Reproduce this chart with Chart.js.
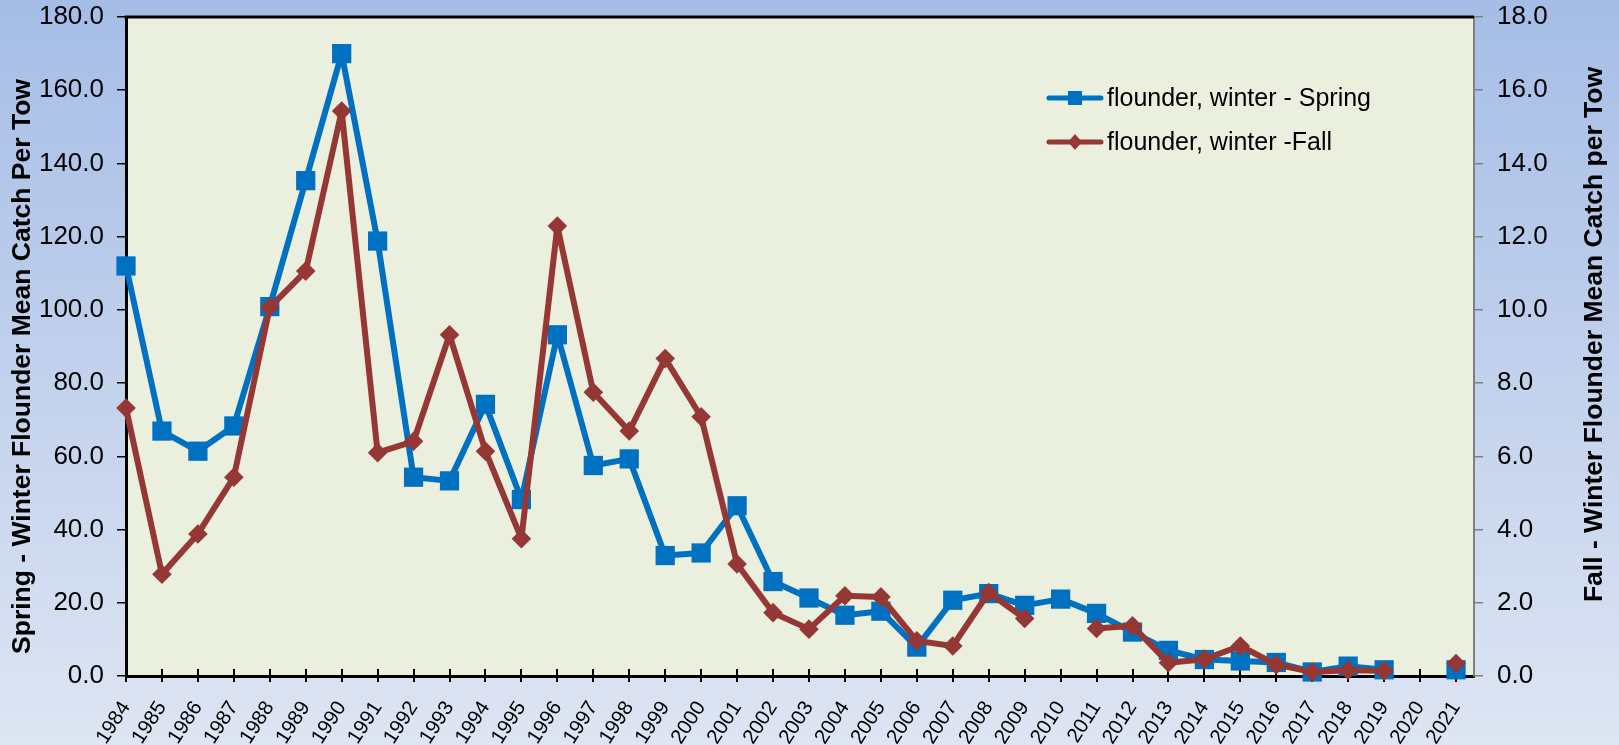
<!DOCTYPE html>
<html>
<head>
<meta charset="utf-8">
<script src="https://cdn.jsdelivr.net/npm/chart.js@4.4.1/dist/chart.umd.min.js"></script>
<style>
  html, body { margin: 0; padding: 0; overflow: hidden; background: #ffffff; }
  #wrap { width: 1619px; height: 745px; position: relative; }
</style>
</head>
<body>
<div id="wrap"><canvas id="c" width="1619" height="745"></canvas></div>
<script>
// Survey years (x categories)
const years = [1984, 1985, 1986, 1987, 1988, 1989, 1990, 1991, 1992, 1993,
               1994, 1995, 1996, 1997, 1998, 1999, 2000, 2001, 2002, 2003,
               2004, 2005, 2006, 2007, 2008, 2009, 2010, 2011, 2012, 2013,
               2014, 2015, 2016, 2017, 2018, 2019, 2020, 2021];

// Spring survey mean catch per tow (left axis)
const springCatch = [112.0, 66.9, 61.4, 68.3, 100.9, 135.3, 170.0, 118.8, 54.3, 53.3,
                     74.2, 48.2, 93.2, 57.5, 59.3, 32.9, 33.6, 46.5, 25.8, 21.3,
                     16.6, 17.7, 7.9, 20.7, 22.5, 19.3, 21.0, 17.1, 12.0, 7.0,
                     4.5, 4.1, 3.7, 1.1, 2.7, 1.7, null, 1.7];

// Fall survey mean catch per tow (right axis)
const fallCatch = [7.32, 2.78, 3.88, 5.43, 10.07, 11.06, 15.43, 6.10, 6.41, 9.32,
                   6.14, 3.75, 12.29, 7.75, 6.69, 8.67, 7.08, 3.06, 1.73, 1.28,
                   2.19, 2.16, 0.96, 0.82, 2.28, 1.57, null, 1.30, 1.37, 0.36,
                   0.46, 0.82, 0.31, 0.11, 0.16, 0.14, null, 0.34];

const seriesNames = ['flounder, winter - Spring', 'flounder, winter -Fall'];
const leftAxisTitle = 'Spring - Winter Flounder Mean Catch Per Tow';
const rightAxisTitle = 'Fall - Winter Flounder Mean Catch per Tow';

const BLUE = '#0070C0';
const RED = '#953735';
const FONT = "'Liberation Sans', Arial, sans-serif";

// Page background gradient and plot-area fill
const backdrop = {
  id: 'backdrop',
  beforeDraw(chart) {
    const { ctx, width, height, chartArea: a } = chart;
    ctx.save();
    const g = ctx.createLinearGradient(0, 0, 0, height);
    g.addColorStop(0, '#A5BDE6');
    g.addColorStop(1, '#DEE5F3');
    ctx.fillStyle = g;
    ctx.fillRect(0, 0, width, height);
    ctx.fillStyle = '#EBEFDE';
    ctx.fillRect(a.left, a.top, a.right - a.left, a.bottom - a.top);
    ctx.restore();
  }
};

// Top frame line and the inner half of the x tick marks
const frame = {
  id: 'frame',
  beforeDatasetsDraw(chart) {
    const { ctx, chartArea: a } = chart;
    const xs = chart.scales.x;
    ctx.save();
    ctx.strokeStyle = '#000';
    ctx.lineWidth = 2;
    xs.ticks.forEach(t => {
      const px = Math.round(xs.getPixelForValue(t.value));
      ctx.beginPath();
      ctx.moveTo(px, a.bottom);
      ctx.lineTo(px, a.bottom - 7);
      ctx.stroke();
    });
    ctx.lineWidth = 3;
    ctx.beginPath();
    ctx.moveTo(a.left - 1.5, a.top);
    ctx.lineTo(a.right, a.top);
    ctx.stroke();
    ctx.restore();
  }
};

// Vertical axis titles
const axisTitles = {
  id: 'axisTitles',
  afterDraw(chart) {
    const { ctx, chartArea: a } = chart;
    const mid = (a.top + a.bottom) / 2;
    ctx.save();
    ctx.fillStyle = '#000';
    ctx.font = 'bold 26.5px ' + FONT;
    ctx.textAlign = 'center';
    ctx.textBaseline = 'middle';
    ctx.save();
    ctx.translate(23, mid + 20);
    ctx.rotate(-Math.PI / 2);
    ctx.fillText(leftAxisTitle, 0, 0);
    ctx.restore();
    ctx.save();
    ctx.translate(1595, mid - 12);
    ctx.rotate(-Math.PI / 2);
    ctx.fillText(rightAxisTitle, 0, 0);
    ctx.restore();
    ctx.restore();
  }
};

// Legend with line-and-marker keys inside the plot area
const lineLegend = {
  id: 'lineLegend',
  afterDatasetsDraw(chart) {
    const { ctx } = chart;
    const rows = [
      { y: 98, base: 106, ds: chart.data.datasets[0] },
      { y: 142, base: 150, ds: chart.data.datasets[1] }
    ];
    ctx.save();
    rows.forEach(r => {
      const col = r.ds.borderColor;
      ctx.strokeStyle = col;
      ctx.lineWidth = 5;
      ctx.lineCap = 'round';
      ctx.beginPath();
      ctx.moveTo(1049, r.y);
      ctx.lineTo(1101, r.y);
      ctx.stroke();
      ctx.fillStyle = col;
      ctx.beginPath();
      if (r.ds.pointStyle === 'rect') {
        ctx.rect(1068, r.y - 7, 14, 14);
      } else {
        ctx.moveTo(1075, r.y - 8);
        ctx.lineTo(1082, r.y);
        ctx.lineTo(1075, r.y + 8);
        ctx.lineTo(1068, r.y);
        ctx.closePath();
      }
      ctx.fill();
      ctx.fillStyle = '#000';
      ctx.font = '25px ' + FONT;
      ctx.textAlign = 'left';
      ctx.textBaseline = 'alphabetic';
      ctx.fillText(r.ds.label, 1107, r.base);
    });
    ctx.restore();
  }
};

const toPoints = vals => vals.map((v, i) => ({ x: years[i], y: v }));

// Keep the plot box fixed: no extra room for half-height tick labels
const fixVertical = w => s => { s.width = w; s.paddingTop = 0; s.paddingBottom = 0; };

new Chart(document.getElementById('c'), {
  type: 'line',
  data: {
    datasets: [
      {
        label: seriesNames[0],
        data: toPoints(springCatch),
        yAxisID: 'y',
        borderColor: BLUE,
        backgroundColor: BLUE,
        borderWidth: 6,
        pointStyle: 'rect',
        pointRadius: 13.6,
        pointBorderWidth: 0,
        pointBackgroundColor: BLUE,
        borderJoinStyle: 'round',
        borderCapStyle: 'round',
        spanGaps: false,
        clip: false,
        order: 1
      },
      {
        label: seriesNames[1],
        data: toPoints(fallCatch),
        yAxisID: 'y2',
        borderColor: RED,
        backgroundColor: RED,
        borderWidth: 6,
        pointStyle: 'rectRot',
        pointRadius: 9.8,
        pointBorderWidth: 0,
        pointBackgroundColor: RED,
        borderJoinStyle: 'round',
        borderCapStyle: 'round',
        spanGaps: false,
        clip: false,
        order: 0
      }
    ]
  },
  options: {
    responsive: false,
    animation: false,
    devicePixelRatio: 1,
    layout: { padding: { top: 17, left: 0, right: 0, bottom: 0 } },
    plugins: {
      legend: { display: false },
      tooltip: { enabled: false },
      title: { display: false }
    },
    scales: {
      x: {
        type: 'linear',
        position: 'bottom',
        min: years[0],
        max: years[years.length - 1] + 0.5,
        afterBuildTicks: s => { s.ticks = years.map(v => ({ value: v })); },
        afterFit: s => { s.height = 69; },
        grid: { drawOnChartArea: false, drawTicks: true, tickLength: 6, color: '#000', lineWidth: 2 },
        border: { display: true, color: '#000', width: 3 },
        ticks: {
          autoSkip: false,
          minRotation: 57,
          maxRotation: 57,
          padding: 15,
          color: '#000',
          font: { family: FONT, size: 20.5 },
          callback: v => String(v)
        }
      },
      y: {
        position: 'left',
        min: 0,
        max: 180,
        afterFit: fixVertical(126),
        grid: { drawOnChartArea: false, drawTicks: true, tickLength: 9, color: '#000', lineWidth: 1.5 },
        border: { display: true, color: '#000', width: 3 },
        ticks: {
          stepSize: 20,
          padding: 13,
          color: '#000',
          font: { family: FONT, size: 26 },
          callback: v => v.toFixed(1)
        }
      },
      y2: {
        position: 'right',
        min: 0,
        max: 18,
        afterFit: fixVertical(145),
        grid: { drawOnChartArea: false, drawTicks: true, tickLength: 9, color: '#808080', lineWidth: 1.5 },
        border: { display: true, color: '#808080', width: 2 },
        ticks: {
          stepSize: 2,
          padding: 14,
          color: '#000',
          font: { family: FONT, size: 26 },
          callback: v => v.toFixed(1)
        }
      }
    }
  },
  plugins: [backdrop, frame, axisTitles, lineLegend]
});
</script>
</body>
</html>
